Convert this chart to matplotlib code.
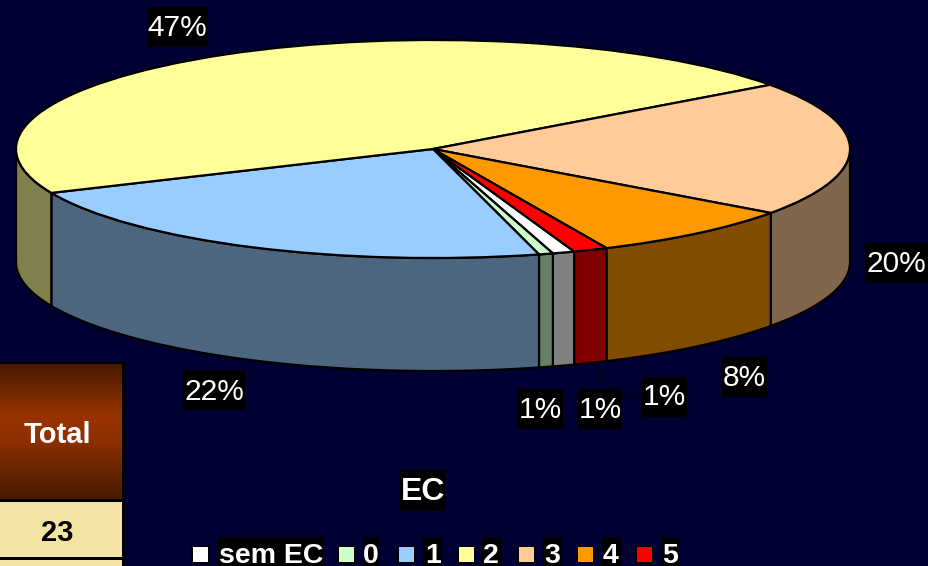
import numpy as np
import matplotlib
matplotlib.use("Agg")
import matplotlib.pyplot as plt
from matplotlib.patches import Rectangle
from matplotlib.colors import LinearSegmentedColormap

categories = ["sem EC", "0", "1", "2", "3", "4", "5"]
values = [0.86, 0.55, 22.5, 46.6, 20.0, 8.2, 1.33]
pct_labels = ["47%", "20%", "8%", "1%", "1%", "1%", "22%"]
colors = ["#FFFFFF", "#CCFFCC", "#99CCFF", "#FFFF99", "#FFCC99", "#FF9900", "#FF0000"]
table_header = "Total"
table_value = "23"
title = "EC"

BG = "#000033"
W, H = 929, 566
CX, CY, RX, RY, DEPTH = 433, 149, 417, 109, 113
FONT = "Liberation Sans"
plt.rcParams["font.family"] = FONT

fig = plt.figure(figsize=(W / 100, H / 100), dpi=100, facecolor=BG)

# pie axes: unit circle stretched to the projected ellipse
pa = fig.add_axes([0, 0, 1, 1], facecolor=BG)
wedges, _ = pa.pie(values, colors=colors, startangle=-70.2, counterclock=False,
                   radius=1, center=(0, 0), frame=True,
                   wedgeprops=dict(edgecolor="black", linewidth=1.6, zorder=5))
pa.set_aspect("auto")
pa.set_xlim((0 - CX) / RX, (W - CX) / RX)
pa.set_ylim((CY - H) / RY, CY / RY)
pa.axis("off")

# side walls of the disc, built from the wedge angles
d = DEPTH / RY
for w, col in zip(wedges, colors):
    a0, a1 = w.theta1 % 360, w.theta2 % 360
    if a1 <= a0:
        a1 += 360
    for lo, hi in [(a0, a1), (a0 + 360, a1 + 360), (a0 - 360, a1 - 360)]:
        lo2, hi2 = max(lo, 180), min(hi, 360)
        if hi2 > lo2:
            t = np.radians(np.linspace(lo2, hi2, 80))
            x, y = np.cos(t), np.sin(t)
            px = np.r_[x, x[::-1]]
            py = np.r_[y, y[::-1] - d]
            dark = tuple(0.5 * c for c in matplotlib.colors.to_rgb(col))
            pa.fill(px, py, facecolor=dark, edgecolor="black", linewidth=1.6, zorder=2)

# overlay in pixel coordinates
ov = fig.add_axes([0, 0, 1, 1], facecolor="none")
ov.set_xlim(0, W)
ov.set_ylim(H, 0)
ov.axis("off")


def black_box(x0, x1, y0, y1, z=1.5):
    ov.add_patch(Rectangle((x0, y0), x1 - x0, y1 - y0, facecolor="black",
                           edgecolor="none", zorder=z))


label_boxes = [(147, 208, 7, 47), (865, 928, 243, 283), (722, 767, 357, 397),
               (641, 687, 377, 417), (578, 622, 389, 429), (517, 563, 389, 429),
               (183, 245, 370, 410)]
label_base = [36, 272, 386, 405, 418, 418, 400]
for s, (x0, x1, y0, y1), b in zip(pct_labels, label_boxes, label_base):
    black_box(x0, x1, y0, y1)
    ov.text((x0 + x1) / 2, b, s, color="white", fontsize=21.5, ha="center",
            va="baseline", zorder=3)

# leader lines
ov.plot([595, 610], [363, 389], color="black", lw=0.8, zorder=1)
ov.plot([622, 641], [396, 396], color="black", lw=0.8, zorder=1)

# title
black_box(400, 446, 470, 511)
ov.text(423, 500.5, title, color="white", fontsize=23, fontweight="bold",
        ha="center", va="baseline", zorder=3)

# legend
swatch_x = [193, 339, 399, 459, 519, 578, 637]
text_x = [219, 363, 425, 483, 544, 603, 662]
text_box = [(217, 323), (363, 379), (423, 442), (482, 502), (543, 562), (602, 621), (661, 680)]
for cat, col, sx, tx, (b0, b1) in zip(categories, colors, swatch_x, text_x, text_box):
    ov.add_patch(Rectangle((sx - 1.5, 545.5), 18, 18, facecolor="black", edgecolor="none", zorder=2))
    ov.add_patch(Rectangle((sx, 547), 15, 15, facecolor=col, edgecolor="none", zorder=2.5))
    black_box(b0, b1, 537, 566)
    ov.text(tx, 563, cat, color="white", fontsize=20.5, fontweight="bold",
            ha="left", va="baseline", zorder=3)

# table fragment
ov.add_patch(Rectangle((-5, 362), 130, 210, facecolor="black", edgecolor="none", zorder=3))
grad = LinearSegmentedColormap.from_list(
    "g", [(0, "#471B00"), (0.38, "#993300"), (0.55, "#8F3000"), (1, "#471B00")])
ov.imshow(np.linspace(0, 1, 256).reshape(-1, 1), cmap=grad, aspect="auto",
          extent=(0, 122, 499, 364), zorder=4)
ov.set_xlim(0, W)
ov.set_ylim(H, 0)
ov.add_patch(Rectangle((0, 502), 122, 55, facecolor="#F3E3A5", edgecolor="none", zorder=4))
ov.add_patch(Rectangle((0, 560), 122, 10, facecolor="#F3E3A5", edgecolor="none", zorder=4))
ov.text(57, 443, table_header, color="white", fontsize=21, fontweight="bold",
        ha="center", va="baseline", zorder=5)
ov.text(57, 541, table_value, color="black", fontsize=21, fontweight="bold",
        ha="center", va="baseline", zorder=5)

fig.savefig("out.png", dpi=100, facecolor=BG)
